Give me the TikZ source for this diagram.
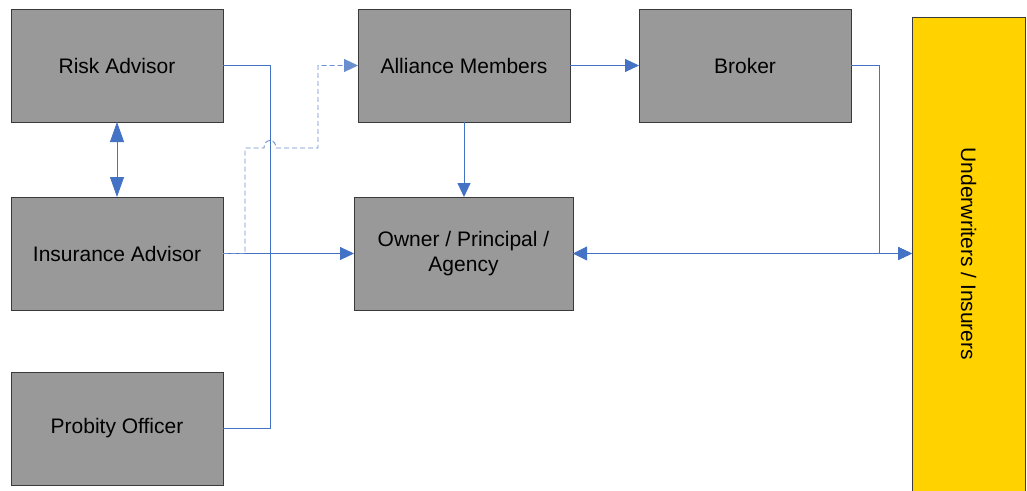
\documentclass[tikz,border=0pt]{standalone}
\usepackage{fontspec}
\setmainfont{Liberation Sans}
\usetikzlibrary{arrows.meta}
\definecolor{boxgray}{HTML}{999999}
\definecolor{boxline}{HTML}{3A3A3A}
\definecolor{linkblue}{HTML}{4472C4}
\definecolor{dashblue}{HTML}{6A8FD0}
\definecolor{uwyellow}{HTML}{FFD200}
\begin{document}
\begin{tikzpicture}[x=1pt,y=-1pt,
  box/.style={draw=boxline,fill=boxgray,line width=0.9pt,inner sep=0pt,outer sep=0pt,
    anchor=north west,minimum width=212pt,minimum height=113pt,align=center,
    font=\fontsize{21}{25}\selectfont},
  conn/.style={draw=linkblue,line width=0.9pt},
  tip/.style={-{Triangle[length=14pt,width=13pt]}},
  bigtips/.style={{Triangle[length=20pt,width=14pt]}-{Triangle[length=20pt,width=14pt]}},
  dtips/.style={{Triangle[length=14pt,width=14pt]}-{Triangle[length=14pt,width=13pt]}},
  dashline/.style={draw=dashblue,dash pattern=on 5pt off 3pt}]
\useasboundingbox (0,0) rectangle (1027,490);
\fill[white] (0,0) rectangle (1027,490);
% boxes
\node[box] (ra) at (11,9) {Risk Advisor};
\node[box] (ia) at (11,197) {Insurance Advisor};
\node[box] (po) at (11,372) {Probity Officer};
\node[box] (am) at (358,9) {Alliance Members};
\node[box] (br) at (639,9) {Broker};
\node[box,minimum width=219pt] (ow) at (354,197) {Owner / Principal /\\Agency};
\node[box,fill=uwyellow,minimum width=113pt,minimum height=476pt] (uw) at (912,17) {};
\node[rotate=-90,font=\fontsize{21}{25}\selectfont,inner sep=0pt] (uwt) at (968.5,254) {Underwriters / Insurers};
% connector points
\coordinate (uwin) at (uw.west |- ow.east);
\coordinate (hopa) at (264,148);
\coordinate (hopb) at (276,148);
% Risk advisor -- probity officer
\draw[conn] (ra.east) -- ++(47,0) |- (po.east);
% Insurance advisor -> owner
\draw[conn,tip] (ia.east) -- (ow.west);
% dashed insurance advisor -> alliance members
\draw[conn,dashline,tip] (ia.east) -- ++(22,0) |- (hopa)
  .. controls ++(0,-10) and ++(0,-10) .. (hopb) -- (318,148) |- (am.west);
% risk <-> insurance
\draw[conn,bigtips] (ra.south) -- (ia.north);
% alliance -> owner
\draw[conn,tip] (am.south) -- (ow.north -| am.south);
% alliance -> broker
\draw[conn,tip] (am.east) -- (br.west);
% broker -> underwriters
\draw[conn,tip] (br.east) -- ++(28,0) |- (uwin);
% owner <-> underwriters
\draw[conn,dtips] (ow.east) -- (uwin);
\end{tikzpicture}
\end{document}
